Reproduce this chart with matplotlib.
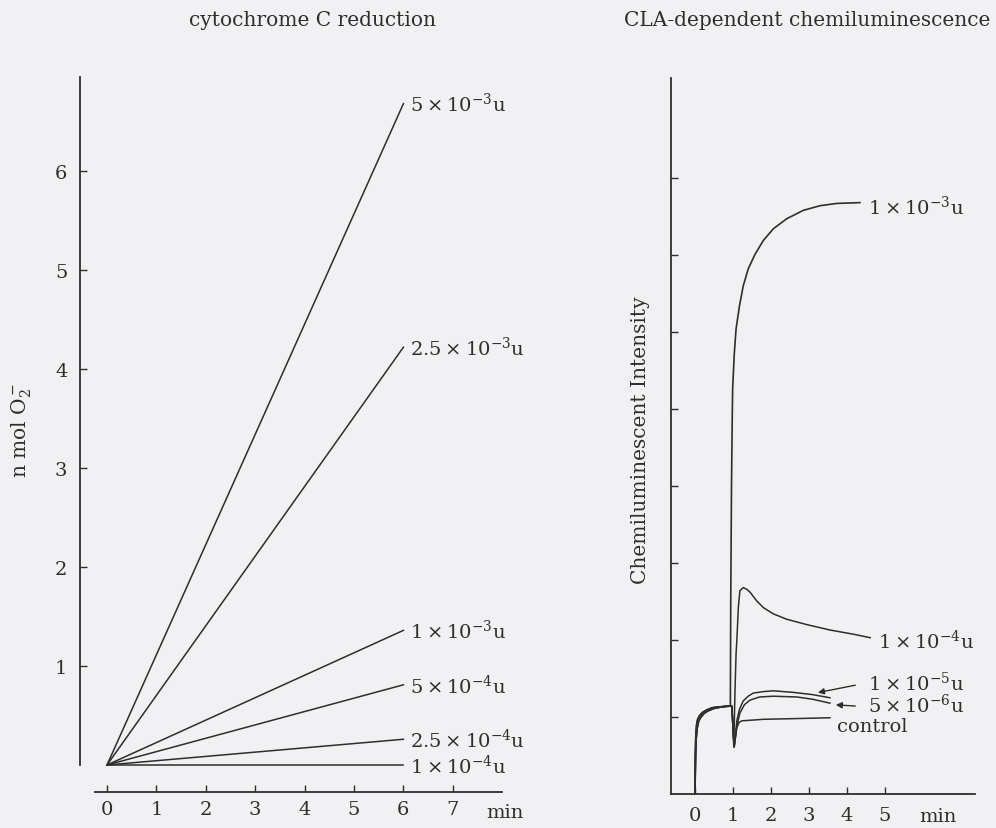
import matplotlib
matplotlib.use("Agg")
import matplotlib.pyplot as plt

plt.rcParams['font.family'] = ['DejaVu Serif']
plt.rcParams['mathtext.fontset'] = 'dejavuserif'

INK = '#2e2e2e'
PAPER = '#f1f1f3'
X = '\u2009×\u2009'

# ---- cytochrome C reduction (left) ----
cyt_labels = ['5' + X + '10$^{-3}$u', '2.5' + X + '10$^{-3}$u', '1' + X + '10$^{-3}$u',
              '5' + X + '10$^{-4}$u', '2.5' + X + '10$^{-4}$u', '1' + X + '10$^{-4}$u']
cyt_t = [0, 6]
cyt_end = [6.68, 4.22, 1.36, 0.81, 0.26, 0.0]

# ---- CLA-dependent chemiluminescence (right) ----
rise_t = [0, 0.01, 0.02, 0.04, 0.07, 0.12, 0.2, 0.3, 0.45, 0.6, 0.8, 0.97]
rise_v = [0, 0.55, 0.75, 0.9, 0.97, 1.02, 1.06, 1.09, 1.12, 1.13, 1.14, 1.14]
rise2_t = [0, 0.015, 0.03, 0.06, 0.1, 0.16, 0.25, 0.35, 0.5, 0.7, 0.85, 0.97]
rise2_v = [0, 0.5, 0.7, 0.86, 0.95, 1.0, 1.05, 1.08, 1.11, 1.13, 1.14, 1.14]

t_1e3 = [0, 0.02, 0.07, 0.2, 0.45, 0.7, 0.93, 0.94, 0.96, 0.98, 0.99, 1.03, 1.08, 1.17,
         1.27, 1.40, 1.58, 1.80, 2.06, 2.41, 2.85, 3.29, 3.73, 4.34]
v_1e3 = [0, 0.75, 0.97, 1.06, 1.12, 1.13, 1.14, 2.5, 4.0, 4.9, 5.26, 5.69, 6.04, 6.34,
         6.60, 6.82, 7.01, 7.19, 7.34, 7.47, 7.58, 7.64, 7.67, 7.68]

t_1e4 = [1.0, 1.02, 1.05, 1.08, 1.10, 1.14, 1.18, 1.27, 1.36, 1.45, 1.62, 1.80, 2.06, 2.41,
         2.94, 3.55, 4.17, 4.61]
v_1e4 = [0.85, 0.62, 1.3, 1.82, 1.99, 2.42, 2.64, 2.68, 2.66, 2.62, 2.51, 2.42, 2.34, 2.27,
         2.20, 2.13, 2.075, 2.03]

t_1e5 = [1.0, 1.03, 1.06, 1.1, 1.17, 1.27, 1.4, 1.53, 1.8, 2.06, 2.58, 3.1, 3.55]
v_1e5 = [0.85, 0.61, 0.75, 0.95, 1.1, 1.21, 1.27, 1.31, 1.33, 1.34, 1.32, 1.29, 1.25]

t_5e6 = [1.0, 1.03, 1.06, 1.1, 1.18, 1.3, 1.45, 1.7, 2.06, 2.68, 3.1, 3.55]
v_5e6 = [0.85, 0.61, 0.72, 0.88, 1.05, 1.16, 1.22, 1.26, 1.27, 1.26, 1.23, 1.18]

t_ctl = [1.0, 1.03, 1.06, 1.1, 1.16, 1.23, 1.8, 2.7, 3.55]
v_ctl = [0.85, 0.61, 0.72, 0.86, 0.93, 0.95, 0.97, 0.98, 0.99]

cla_labels = ['1' + X + '10$^{-3}$u', '1' + X + '10$^{-4}$u', '1' + X + '10$^{-5}$u',
              '5' + X + '10$^{-6}$u', 'control']
cla_label_xy = [(4.55, 7.64), (4.82, 2.0), (4.55, 1.45), (4.55, 1.16), (3.74, 0.88)]

fig = plt.figure(figsize=(9.96, 8.29), dpi=100, facecolor=PAPER)

# left panel
ax1 = fig.add_axes([0.07767, 0.04017, 0.4365, 0.8718])
ax1.set_facecolor(PAPER)
ax1.set_xlim(-0.6, 8.2)
ax1.set_ylim(-0.3, 7.0)
for end, lab in zip(cyt_end, cyt_labels):
    ax1.plot(cyt_t, [0, end], color=INK, lw=1.1)
    ax1.text(6.13, end, lab, fontsize=14, color=INK, va='center', ha='left')
for s in ['top', 'right']:
    ax1.spines[s].set_visible(False)
ax1.spines['left'].set_position(('data', -0.55))
ax1.spines['left'].set_bounds(0, 6.95)
ax1.spines['bottom'].set_position(('data', -0.27))
ax1.spines['bottom'].set_bounds(-0.24, 8.0)
for s in ['left', 'bottom']:
    ax1.spines[s].set_color(INK)
    ax1.spines[s].set_linewidth(1.3)
ax1.set_xticks(range(8))
ax1.set_yticks(range(1, 7))
ax1.tick_params(direction='in', length=5, width=1, colors=INK, labelsize=14)
ax1.tick_params(axis='y', pad=9)
ax1.tick_params(axis='x', pad=6)

# right panel
ax2 = fig.add_axes([0.6711, 0.03637, 0.30904, 0.8731])
ax2.set_facecolor(PAPER)
ax2.set_xlim(-0.7, 7.4)
ax2.set_ylim(-0.05, 9.35)
ax2.plot(t_1e3, v_1e3, color=INK, lw=1.2)
for tt, vv, rt, rv in [(t_1e4, v_1e4, rise_t, rise_v), (t_1e5, v_1e5, rise2_t, rise2_v),
                       (t_5e6, v_5e6, rise_t, rise_v), (t_ctl, v_ctl, rise2_t, rise2_v)]:
    ax2.plot(rt + tt, rv + vv, color=INK, lw=1.1)
for (x, y), lab in zip(cla_label_xy, cla_labels):
    ax2.text(x, y, lab, fontsize=14, color=INK, va='center', ha='left')
ax2.annotate('', xy=(3.16, 1.31), xytext=(4.29, 1.42),
             arrowprops=dict(arrowstyle='-|>', color=INK, lw=1, mutation_scale=9))
ax2.annotate('', xy=(3.63, 1.16), xytext=(4.29, 1.14),
             arrowprops=dict(arrowstyle='-|>', color=INK, lw=1, mutation_scale=9))
for s in ['top', 'right']:
    ax2.spines[s].set_visible(False)
ax2.spines['left'].set_position(('data', -0.63))
ax2.spines['left'].set_bounds(0, 9.3)
ax2.spines['bottom'].set_position(('data', 0))
ax2.spines['bottom'].set_bounds(-0.63, 7.37)
for s in ['left', 'bottom']:
    ax2.spines[s].set_color(INK)
    ax2.spines[s].set_linewidth(1.3)
ax2.set_xticks(range(6))
ax2.set_yticks(range(1, 9))
ax2.set_yticklabels([])
ax2.tick_params(direction='in', length=5, width=1, colors=INK, labelsize=14)
ax2.tick_params(axis='x', pad=9)

# titles, axis names, units
fig.text(312 / 996, 1 - 20 / 829, 'cytochrome C reduction', ha='center', va='center',
         fontsize=14.5, color=INK)
fig.text(807 / 996, 1 - 20 / 829, 'CLA-dependent chemiluminescence', ha='center', va='center',
         fontsize=14.5, color=INK)
fig.text(22 / 996, 1 - 430 / 829, r'n mol O$_2^-$', rotation=90, ha='center', va='center',
         fontsize=14.5, color=INK)
fig.text(640 / 996, 1 - 440 / 829, 'Chemiluminescent Intensity', rotation=90, ha='center',
         va='center', fontsize=14.5, color=INK)
fig.text(486 / 996, 1 - 813 / 829, 'min', ha='left', va='center', fontsize=14, color=INK)
fig.text(938 / 996, 1 - 817 / 829, 'min', ha='center', va='center', fontsize=14, color=INK)

fig.savefig('out.png', dpi=100, facecolor=PAPER)
